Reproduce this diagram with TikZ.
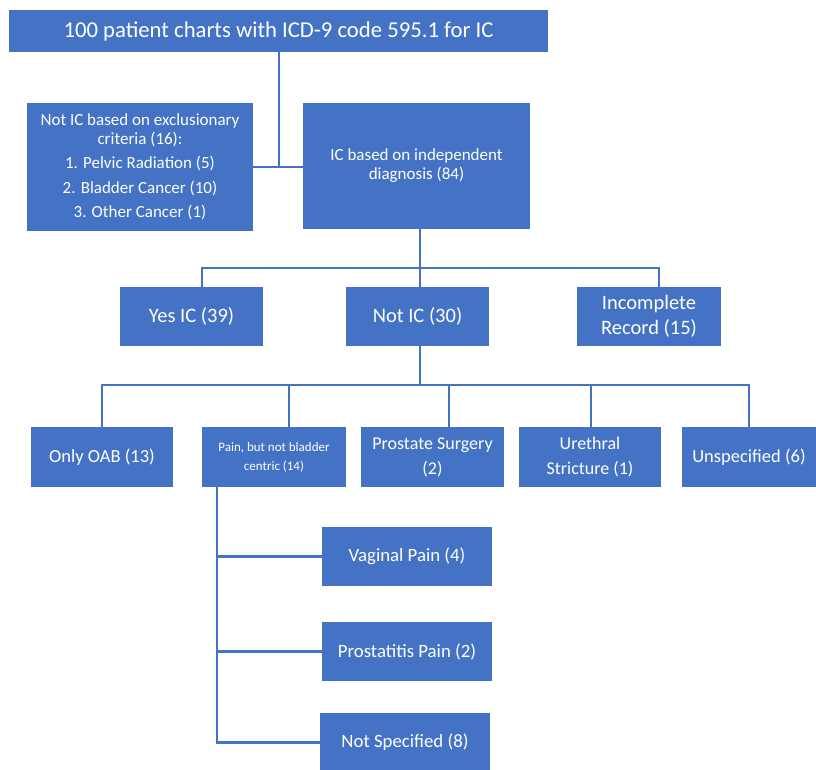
\documentclass[tikz,border=0pt]{standalone}
\usepackage{fontspec}
\setmainfont{Carlito}
\definecolor{boxblue}{HTML}{4472C4}
\definecolor{lineblue}{HTML}{4472C4}
\begin{document}
\begin{tikzpicture}[x=1pt,y=-1pt,
  box/.style={fill=boxblue, text=white, inner sep=0pt, align=center},
  conn/.style={draw=lineblue, line width=2.1pt}]
\useasboundingbox (0,0) rectangle (816,770);
% level 0
\node[box, minimum width=539pt, minimum height=42pt, font=\fontsize{22.7}{26}\selectfont] (top) at (278.5,31) {100 patient charts with ICD-9 code 595.1 for IC};
% level 1
\node[box, minimum width=226pt, minimum height=128pt, font=\fontsize{17}{18.5}\selectfont] (left) at (140,167)
  {Not IC based on exclusionary\\criteria (16):\\[6pt]1. Pelvic Radiation (5)\\[6pt]2. Bladder Cancer (10)\\[6pt]3. Other Cancer (1)};
\node[box, minimum width=227pt, minimum height=126pt, font=\fontsize{17}{19}\selectfont] (right) at (416.5,166)
  {IC based on independent\\diagnosis (84)};
% level 2
\node[box, minimum width=143pt, minimum height=59pt, font=\fontsize{20.5}{25}\selectfont] (yes) at (191.5,316.5) {Yes IC (39)};
\node[box, minimum width=143pt, minimum height=59pt, font=\fontsize{20.5}{25}\selectfont] (notic) at (417.5,316.5) {Not IC (30)};
\node[box, minimum width=144pt, minimum height=59pt, font=\fontsize{20.5}{25}\selectfont] (incomp) at (649,316.5) {Incomplete\\Record (15)};
% level 3
\node[box, minimum width=142pt, minimum height=60pt, font=\fontsize{18.5}{25}\selectfont] (oab) at (102,457) {Only OAB (13)};
\node[box, minimum width=144pt, minimum height=60pt, font=\fontsize{13}{19}\selectfont] (pain) at (274,457) {Pain, but not bladder\\centric (14)};
\node[box, minimum width=143pt, minimum height=60pt, font=\fontsize{18}{25}\selectfont] (pros) at (432.5,457) {Prostate Surgery\\(2)};
\node[box, minimum width=142pt, minimum height=60pt, font=\fontsize{18}{25}\selectfont] (ureth) at (590,457) {Urethral\\Stricture (1)};
\node[box, minimum width=134pt, minimum height=60pt, font=\fontsize{18.5}{25}\selectfont] (unsp) at (749,457) {Unspecified (6)};
% level 4
\node[box, minimum width=170pt, minimum height=59pt, font=\fontsize{18.8}{24}\selectfont] (vag) at (407,556.5) {Vaginal Pain (4)};
\node[box, minimum width=170pt, minimum height=59pt, font=\fontsize{18.8}{24}\selectfont] (prost) at (407,651.5) {Prostatitis Pain (2)};
\node[box, minimum width=170pt, minimum height=59pt, font=\fontsize{18.8}{24}\selectfont] (notsp) at (405,742.5) {Not Specified (8)};
% connectors level 0 -> 1
\coordinate (j1) at (279,167);
\draw[conn] (top.south -| j1) -- (j1);
\draw[conn] (left.east |- j1) -- (right.west |- j1);
% connectors level 1 -> 2
\coordinate (h1) at (420,268);
\coordinate (d1) at (202,268);
\coordinate (d3) at (659,268);
\draw[conn] (right.south -| h1) -- (h1);
\draw[conn] (yes.north -| d1) -- (d1) -- (d3) -- (incomp.north -| d3);
\draw[conn] (h1) -- (notic.north -| h1);
% connectors level 2 -> 3
\coordinate (h2) at (420,385);
\coordinate (p2) at (289,385);
\coordinate (p3) at (449,385);
\coordinate (p4) at (591,385);
\draw[conn] (notic.south -| h2) -- (h2);
\draw[conn] (oab.north) -- (oab.north |- h2) -- (unsp.north |- h2) -- (unsp.north);
\draw[conn] (p2) -- (pain.north -| p2);
\draw[conn] (p3) -- (pros.north -| p3);
\draw[conn] (p4) -- (ureth.north -| p4);
% connectors pain -> level 4
\coordinate (pv) at (217,487);
\draw[conn] (pain.south -| pv) -- (notsp.west -| pv) -- (notsp.west);
\draw[conn] (vag.west -| pv) -- (vag.west);
\draw[conn] (prost.west -| pv) -- (prost.west);
\end{tikzpicture}
\end{document}
